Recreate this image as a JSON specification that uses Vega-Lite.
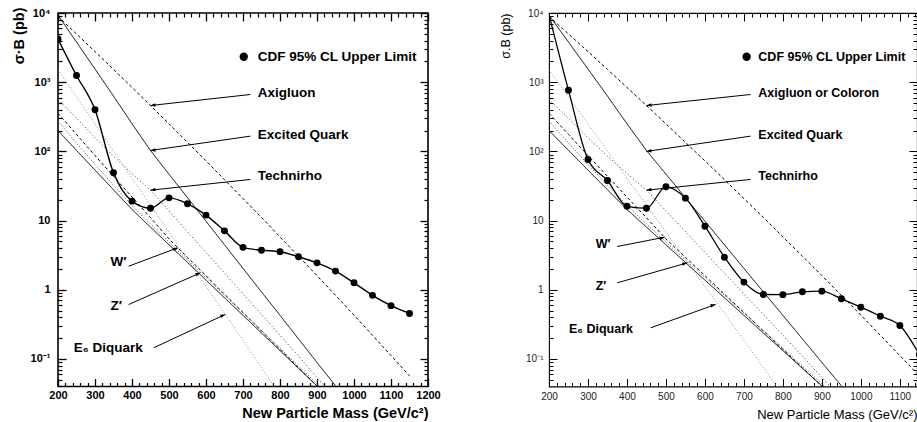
{
  "$schema": "https://vega.github.io/schema/vega-lite/v6.json",
  "padding": {"left": 10, "top": 0, "right": 0, "bottom": 0},
  "spacing": 56,
  "config": {
    "view": {"stroke": "black", "strokeWidth": 1.3},
    "axis": {"labelColor": "black", "titleColor": "black", "grid": false, "domain": false}
  },
  "datasets": {
    "theory": [
      {"model": "Axigluon", "mass": 200, "xs": 8900}, {"model": "Axigluon", "mass": 250, "xs": 4980}, {"model": "Axigluon", "mass": 300, "xs": 2770}, {"model": "Axigluon", "mass": 350, "xs": 1530}, {"model": "Axigluon", "mass": 400, "xs": 840}, {"model": "Axigluon", "mass": 450, "xs": 460}, {"model": "Axigluon", "mass": 500, "xs": 250}, {"model": "Axigluon", "mass": 550, "xs": 135}, {"model": "Axigluon", "mass": 600, "xs": 73}, {"model": "Axigluon", "mass": 650, "xs": 39}, {"model": "Axigluon", "mass": 700, "xs": 20.8}, {"model": "Axigluon", "mass": 750, "xs": 11.1}, {"model": "Axigluon", "mass": 800, "xs": 5.8}, {"model": "Axigluon", "mass": 850, "xs": 3.06}, {"model": "Axigluon", "mass": 900, "xs": 1.6}, {"model": "Axigluon", "mass": 950, "xs": 0.83}, {"model": "Axigluon", "mass": 1000, "xs": 0.43}, {"model": "Axigluon", "mass": 1050, "xs": 0.22}, {"model": "Axigluon", "mass": 1100, "xs": 0.112}, {"model": "Axigluon", "mass": 1150, "xs": 0.057},
      {"model": "Excited Quark", "mass": 200, "xs": 9300}, {"model": "Excited Quark", "mass": 250, "xs": 3800}, {"model": "Excited Quark", "mass": 300, "xs": 1550}, {"model": "Excited Quark", "mass": 350, "xs": 630}, {"model": "Excited Quark", "mass": 400, "xs": 251}, {"model": "Excited Quark", "mass": 450, "xs": 103}, {"model": "Excited Quark", "mass": 500, "xs": 46.8}, {"model": "Excited Quark", "mass": 550, "xs": 21.4}, {"model": "Excited Quark", "mass": 600, "xs": 9.8}, {"model": "Excited Quark", "mass": 650, "xs": 4.47}, {"model": "Excited Quark", "mass": 700, "xs": 2.04}, {"model": "Excited Quark", "mass": 750, "xs": 0.93}, {"model": "Excited Quark", "mass": 800, "xs": 0.427}, {"model": "Excited Quark", "mass": 850, "xs": 0.195}, {"model": "Excited Quark", "mass": 900, "xs": 0.089}, {"model": "Excited Quark", "mass": 950, "xs": 0.041}, {"model": "Excited Quark", "mass": 1000, "xs": 0.0186},
      {"model": "Technirho", "mass": 200, "xs": 562}, {"model": "Technirho", "mass": 250, "xs": 302}, {"model": "Technirho", "mass": 300, "xs": 158}, {"model": "Technirho", "mass": 350, "xs": 85}, {"model": "Technirho", "mass": 400, "xs": 47.9}, {"model": "Technirho", "mass": 450, "xs": 27.5}, {"model": "Technirho", "mass": 500, "xs": 13.8}, {"model": "Technirho", "mass": 550, "xs": 6.9}, {"model": "Technirho", "mass": 600, "xs": 3.47}, {"model": "Technirho", "mass": 650, "xs": 1.74}, {"model": "Technirho", "mass": 700, "xs": 0.87}, {"model": "Technirho", "mass": 750, "xs": 0.44}, {"model": "Technirho", "mass": 800, "xs": 0.22}, {"model": "Technirho", "mass": 850, "xs": 0.11}, {"model": "Technirho", "mass": 900, "xs": 0.054}, {"model": "Technirho", "mass": 950, "xs": 0.027},
      {"model": "E6 Diquark", "mass": 200, "xs": 1510}, {"model": "E6 Diquark", "mass": 250, "xs": 614}, {"model": "E6 Diquark", "mass": 300, "xs": 250}, {"model": "E6 Diquark", "mass": 350, "xs": 101}, {"model": "E6 Diquark", "mass": 400, "xs": 41}, {"model": "E6 Diquark", "mass": 450, "xs": 16.7}, {"model": "E6 Diquark", "mass": 500, "xs": 6.8}, {"model": "E6 Diquark", "mass": 550, "xs": 2.76}, {"model": "E6 Diquark", "mass": 600, "xs": 1.12}, {"model": "E6 Diquark", "mass": 650, "xs": 0.46}, {"model": "E6 Diquark", "mass": 700, "xs": 0.186}, {"model": "E6 Diquark", "mass": 750, "xs": 0.075}, {"model": "E6 Diquark", "mass": 800, "xs": 0.03},
      {"model": "W′", "mass": 200, "xs": 355}, {"model": "W′", "mass": 250, "xs": 176}, {"model": "W′", "mass": 300, "xs": 87}, {"model": "W′", "mass": 350, "xs": 43.6}, {"model": "W′", "mass": 400, "xs": 21.9}, {"model": "W′", "mass": 450, "xs": 11}, {"model": "W′", "mass": 500, "xs": 5.43}, {"model": "W′", "mass": 550, "xs": 2.94}, {"model": "W′", "mass": 600, "xs": 1.6}, {"model": "W′", "mass": 650, "xs": 0.865}, {"model": "W′", "mass": 700, "xs": 0.469}, {"model": "W′", "mass": 750, "xs": 0.254}, {"model": "W′", "mass": 800, "xs": 0.138}, {"model": "W′", "mass": 850, "xs": 0.0746}, {"model": "W′", "mass": 900, "xs": 0.0405}, {"model": "W′", "mass": 950, "xs": 0.022},
      {"model": "W′ (alt)", "mass": 200, "xs": 275}, {"model": "W′ (alt)", "mass": 250, "xs": 132}, {"model": "W′ (alt)", "mass": 300, "xs": 64.6}, {"model": "W′ (alt)", "mass": 350, "xs": 32.4}, {"model": "W′ (alt)", "mass": 400, "xs": 16.6}, {"model": "W′ (alt)", "mass": 450, "xs": 8.9}, {"model": "W′ (alt)", "mass": 500, "xs": 4.9}, {"model": "W′ (alt)", "mass": 550, "xs": 2.69}, {"model": "W′ (alt)", "mass": 600, "xs": 1.5}, {"model": "W′ (alt)", "mass": 650, "xs": 0.83}, {"model": "W′ (alt)", "mass": 700, "xs": 0.462}, {"model": "W′ (alt)", "mass": 750, "xs": 0.257}, {"model": "W′ (alt)", "mass": 800, "xs": 0.143}, {"model": "W′ (alt)", "mass": 850, "xs": 0.0794}, {"model": "W′ (alt)", "mass": 900, "xs": 0.0437}, {"model": "W′ (alt)", "mass": 950, "xs": 0.0243},
      {"model": "Z′", "mass": 200, "xs": 200}, {"model": "Z′", "mass": 250, "xs": 103.5}, {"model": "Z′", "mass": 300, "xs": 53.7}, {"model": "Z′", "mass": 350, "xs": 27.9}, {"model": "Z′", "mass": 400, "xs": 14.5}, {"model": "Z′", "mass": 450, "xs": 8.04}, {"model": "Z′", "mass": 500, "xs": 4.47}, {"model": "Z′", "mass": 550, "xs": 2.48}, {"model": "Z′", "mass": 600, "xs": 1.38}, {"model": "Z′", "mass": 650, "xs": 0.767}, {"model": "Z′", "mass": 700, "xs": 0.427}, {"model": "Z′", "mass": 750, "xs": 0.237}, {"model": "Z′", "mass": 800, "xs": 0.132}, {"model": "Z′", "mass": 850, "xs": 0.0733}, {"model": "Z′", "mass": 900, "xs": 0.0407}, {"model": "Z′", "mass": 950, "xs": 0.0226}
    ],
    "cdf1": [
      {"mass": 200, "xs": 4200, "marker": true}, {"mass": 250, "xs": 1250, "marker": true}, {"mass": 300, "xs": 400, "marker": true}, {"mass": 350, "xs": 49, "marker": true}, {"mass": 400, "xs": 19.1, "marker": true}, {"mass": 450, "xs": 15.1, "marker": true}, {"mass": 500, "xs": 21.3, "marker": true}, {"mass": 550, "xs": 17.5, "marker": true}, {"mass": 600, "xs": 12, "marker": true}, {"mass": 650, "xs": 7.1, "marker": true}, {"mass": 700, "xs": 4.1, "marker": true}, {"mass": 750, "xs": 3.73, "marker": true}, {"mass": 800, "xs": 3.55, "marker": true}, {"mass": 850, "xs": 3.0, "marker": true}, {"mass": 900, "xs": 2.45, "marker": true}, {"mass": 950, "xs": 1.86, "marker": true}, {"mass": 1000, "xs": 1.26, "marker": true}, {"mass": 1050, "xs": 0.83, "marker": true}, {"mass": 1100, "xs": 0.59, "marker": true}, {"mass": 1150, "xs": 0.455, "marker": true}
    ],
    "cdf2": [
      {"mass": 200, "xs": 9500, "marker": false}, {"mass": 250, "xs": 766, "marker": true}, {"mass": 300, "xs": 76.4, "marker": true}, {"mass": 350, "xs": 38, "marker": true}, {"mass": 400, "xs": 16.1, "marker": true}, {"mass": 450, "xs": 15.1, "marker": true}, {"mass": 500, "xs": 30.8, "marker": true}, {"mass": 550, "xs": 21.1, "marker": true}, {"mass": 600, "xs": 8.3, "marker": true}, {"mass": 650, "xs": 2.96, "marker": true}, {"mass": 700, "xs": 1.29, "marker": true}, {"mass": 750, "xs": 0.855, "marker": true}, {"mass": 800, "xs": 0.85, "marker": true}, {"mass": 850, "xs": 0.935, "marker": true}, {"mass": 900, "xs": 0.955, "marker": true}, {"mass": 950, "xs": 0.74, "marker": true}, {"mass": 1000, "xs": 0.56, "marker": true}, {"mass": 1050, "xs": 0.415, "marker": true}, {"mass": 1100, "xs": 0.305, "marker": true}, {"mass": 1150, "xs": 0.116, "marker": true}
    ],
    "arrows1": [
      {"label": "Axigluon", "x1": 720, "y1": 664, "x2": 450, "y2": 460},
      {"label": "Excited Quark", "x1": 720, "y1": 166, "x2": 450, "y2": 103},
      {"label": "Technirho", "x1": 720, "y1": 39.3, "x2": 450, "y2": 27.5},
      {"label": "W′", "x1": 391, "y1": 2.19, "x2": 524, "y2": 4.05},
      {"label": "Z′", "x1": 391, "y1": 0.612, "x2": 585, "y2": 1.76},
      {"label": "E₆ Diquark", "x1": 458.6, "y1": 0.145, "x2": 652, "y2": 0.44}
    ],
    "arrows2": [
      {"label": "Axigluon or Coloron", "x1": 717, "y1": 664, "x2": 450, "y2": 460},
      {"label": "Excited Quark", "x1": 717, "y1": 166, "x2": 450, "y2": 100},
      {"label": "Technirho", "x1": 717, "y1": 39.3, "x2": 450, "y2": 27.5},
      {"label": "W′", "x1": 375, "y1": 4.22, "x2": 496.7, "y2": 5.75},
      {"label": "Z′", "x1": 375, "y1": 1.26, "x2": 554.8, "y2": 2.45},
      {"label": "E₆ Diquark", "x1": 460.8, "y1": 0.282, "x2": 627.4, "y2": 0.614}
    ],
    "notes1": [
      {"label": "Axigluon", "x": 740, "y": 703},
      {"label": "Excited Quark", "x": 740, "y": 175},
      {"label": "Technirho", "x": 740, "y": 43.8},
      {"label": "W′", "x": 342, "y": 2.48},
      {"label": "Z′", "x": 342, "y": 0.58},
      {"label": "E₆ Diquark", "x": 242.4, "y": 0.145}
    ],
    "notes2": [
      {"label": "Axigluon or Coloron", "x": 737, "y": 703},
      {"label": "Excited Quark", "x": 737, "y": 175},
      {"label": "Technirho", "x": 737, "y": 43.8},
      {"label": "W′", "x": 319.7, "y": 4.52},
      {"label": "Z′", "x": 319.7, "y": 1.13},
      {"label": "E₆ Diquark", "x": 251.3, "y": 0.267}
    ],
    "legend1": [{"label": "CDF 95% CL Upper Limit", "mx": 702, "tx": 740, "y": 2330}],
    "legend2": [{"label": "CDF 95% CL Upper Limit", "mx": 707, "tx": 737, "y": 2330}]
  },
  "hconcat": [
    {
      "width": 370,
      "height": 373.5,
      "view": {"stroke": "black", "strokeWidth": 1.6},
      "resolve": {"axis": {"x": "independent", "y": "independent"}},
      "layer": [
        {
          "data": {"name": "theory"},
          "mark": {"type": "line", "clip": true, "strokeWidth": 1},
          "encoding": {
            "x": {"field": "mass", "type": "quantitative", "scale": {"domain": [200, 1200], "nice": false, "zero": false},
              "axis": {"orient": "bottom", "values": [200, 300, 400, 500, 600, 700, 800, 900, 1000, 1100, 1200], "format": "d", "ticks": true, "tickSize": 8, "offset": -8, "tickColor": "black", "tickWidth": 1.3, "labelFont": "Liberation Sans", "labelFontWeight": "bold", "labelFontSize": 11, "labelPadding": 3, "labelFlush": false, "title": "New Particle Mass (GeV/c²)", "titleFont": "Liberation Sans", "titleFontWeight": "bold", "titleFontSize": 14.5, "titleAnchor": "end", "titlePadding": 6}},
            "y": {"field": "xs", "type": "quantitative", "scale": {"type": "log", "domain": [0.04, 10000], "nice": false},
              "axis": {"orient": "left", "values": [0.1, 1, 10, 100, 1000, 10000], "ticks": true, "tickSize": 8, "offset": -8, "tickColor": "black", "tickWidth": 1.3, "labelExpr": "datum.value == 10000 ? '10⁴' : datum.value == 1000 ? '10³' : datum.value == 100 ? '10²' : datum.value == 10 ? '10' : datum.value == 1 ? '1' : '10⁻¹'", "labelFont": "Liberation Sans", "labelFontWeight": "bold", "labelFontSize": 11, "labelPadding": 8, "labelFlush": false, "title": "σ·B (pb)", "titleFont": "Liberation Sans", "titleFontWeight": "bold", "titleFontSize": 14.5, "titleAnchor": "end", "titleY": -6, "titlePadding": 4}},
            "color": {"field": "model", "type": "nominal", "legend": null, "scale": {"domain": ["Axigluon", "Excited Quark", "Technirho", "E6 Diquark", "W′", "W′ (alt)", "Z′"], "range": ["black", "black", "#333333", "#8a8a8a", "black", "#444444", "black"]}},
            "strokeDash": {"field": "model", "type": "nominal", "legend": null, "scale": {"domain": ["Axigluon", "Excited Quark", "Technirho", "E6 Diquark", "W′", "W′ (alt)", "Z′"], "range": [[3, 2.5], [1, 0], [1, 2.5], [1, 2], [3, 2.5], [1, 2], [1, 0]]}}
          }
        },
        {
          "data": {"name": "cdf1"},
          "mark": {"type": "line", "interpolate": "monotone", "color": "black", "strokeWidth": 1.4, "clip": true},
          "encoding": {
            "x": {"field": "mass", "type": "quantitative", "axis": {"orient": "top", "values": [200, 300, 400, 500, 600, 700, 800, 900, 1000, 1100, 1200], "labels": true, "labelExpr": "''", "ticks": true, "tickSize": 8, "offset": -8, "tickColor": "black", "tickWidth": 1.3, "title": null}},
            "y": {"field": "xs", "type": "quantitative", "axis": {"orient": "right", "values": [0.1, 1, 10, 100, 1000, 10000], "labels": true, "labelExpr": "''", "ticks": true, "tickSize": 8, "offset": -8, "tickColor": "black", "tickWidth": 1.3, "title": null}}
          }
        },
        {
          "data": {"name": "cdf1"},
          "transform": [{"filter": "datum.marker"}],
          "mark": {"type": "point", "filled": true, "color": "black", "opacity": 1, "size": 48, "clip": true},
          "encoding": {
            "x": {"field": "mass", "type": "quantitative", "axis": {"orient": "bottom", "values": [220, 240, 260, 280, 320, 340, 360, 380, 420, 440, 460, 480, 520, 540, 560, 580, 620, 640, 660, 680, 720, 740, 760, 780, 820, 840, 860, 880, 920, 940, 960, 980, 1020, 1040, 1060, 1080, 1120, 1140, 1160, 1180], "labels": true, "labelExpr": "''", "ticks": true, "tickSize": 4, "offset": -4, "tickColor": "black", "tickWidth": 1.2, "title": null}},
            "y": {"field": "xs", "type": "quantitative", "axis": {"orient": "left", "values": [0.05, 0.06, 0.07, 0.08, 0.09, 0.2, 0.3, 0.4, 0.5, 0.6, 0.7, 0.8, 0.9, 2, 3, 4, 5, 6, 7, 8, 9, 20, 30, 40, 50, 60, 70, 80, 90, 200, 300, 400, 500, 600, 700, 800, 900, 2000, 3000, 4000, 5000, 6000, 7000, 8000, 9000], "labels": true, "labelExpr": "''", "ticks": true, "tickSize": 4, "offset": -4, "tickColor": "black", "tickWidth": 1.2, "title": null}}
          }
        },
        {
          "data": {"name": "arrows1"},
          "mark": {"type": "rule", "color": "black", "strokeWidth": 1},
          "encoding": {
            "x": {"field": "x1", "type": "quantitative", "axis": {"orient": "top", "values": [220, 240, 260, 280, 320, 340, 360, 380, 420, 440, 460, 480, 520, 540, 560, 580, 620, 640, 660, 680, 720, 740, 760, 780, 820, 840, 860, 880, 920, 940, 960, 980, 1020, 1040, 1060, 1080, 1120, 1140, 1160, 1180], "labels": true, "labelExpr": "''", "ticks": true, "tickSize": 4, "offset": -4, "tickColor": "black", "tickWidth": 1.2, "title": null}},
            "y": {"field": "y1", "type": "quantitative", "axis": {"orient": "right", "values": [0.05, 0.06, 0.07, 0.08, 0.09, 0.2, 0.3, 0.4, 0.5, 0.6, 0.7, 0.8, 0.9, 2, 3, 4, 5, 6, 7, 8, 9, 20, 30, 40, 50, 60, 70, 80, 90, 200, 300, 400, 500, 600, 700, 800, 900, 2000, 3000, 4000, 5000, 6000, 7000, 8000, 9000], "labels": true, "labelExpr": "''", "ticks": true, "tickSize": 4, "offset": -4, "tickColor": "black", "tickWidth": 1.2, "title": null}},
            "x2": {"field": "x2"},
            "y2": {"field": "y2"}
          }
        },
        {
          "data": {"name": "arrows1"},
          "transform": [{"filter": {"field": "label", "oneOf": ["Axigluon", "Excited Quark", "Technirho"]}}],
          "mark": {"type": "point", "shape": "M2,-0.7L0,0L2,0.7Z", "filled": true, "color": "black", "opacity": 1, "size": 25, "angle": -7},
          "encoding": {
            "x": {"field": "x2", "type": "quantitative", "axis": null},
            "y": {"field": "y2", "type": "quantitative", "axis": null}
          }
        },
        {
          "data": {"name": "arrows1"},
          "transform": [{"filter": {"field": "label", "oneOf": ["W′", "Z′", "E₆ Diquark"]}}],
          "mark": {"type": "point", "shape": "M-2,-0.7L0,0L-2,0.7Z", "filled": true, "color": "black", "opacity": 1, "size": 25, "angle": -23},
          "encoding": {
            "x": {"field": "x2", "type": "quantitative", "axis": null},
            "y": {"field": "y2", "type": "quantitative", "axis": null}
          }
        },
        {
          "data": {"name": "notes1"},
          "mark": {"type": "text", "align": "left", "baseline": "middle", "font": "Liberation Sans", "fontWeight": "bold", "fontSize": 13.5, "color": "black"},
          "encoding": {
            "x": {"field": "x", "type": "quantitative", "axis": null},
            "y": {"field": "y", "type": "quantitative", "axis": null},
            "text": {"field": "label"}
          }
        },
        {
          "data": {"name": "legend1"},
          "mark": {"type": "point", "filled": true, "color": "black", "opacity": 1, "size": 70},
          "encoding": {
            "x": {"field": "mx", "type": "quantitative", "axis": null},
            "y": {"field": "y", "type": "quantitative", "axis": null}
          }
        },
        {
          "data": {"name": "legend1"},
          "mark": {"type": "text", "align": "left", "baseline": "middle", "font": "Liberation Sans", "fontWeight": "bold", "fontSize": 13.5, "color": "black"},
          "encoding": {
            "x": {"field": "tx", "type": "quantitative", "axis": null},
            "y": {"field": "y", "type": "quantitative", "axis": null},
            "text": {"field": "label"}
          }
        }
      ]
    },
    {
      "width": 368,
      "height": 373.5,
      "view": {"stroke": "black", "strokeWidth": 1.1},
      "resolve": {"axis": {"x": "independent", "y": "independent"}},
      "layer": [
        {
          "data": {"name": "theory"},
          "mark": {"type": "line", "clip": true, "strokeWidth": 1},
          "encoding": {
            "x": {"field": "mass", "type": "quantitative", "scale": {"domain": [200, 1144], "nice": false, "zero": false},
              "axis": {"orient": "bottom", "values": [200, 300, 400, 500, 600, 700, 800, 900, 1000, 1100], "format": "d", "ticks": true, "tickSize": 8, "offset": -8, "tickColor": "black", "tickWidth": 1, "labelFont": "Liberation Sans", "labelFontSize": 10, "labelColor": "#222222", "labelPadding": 5, "labelFlush": false, "title": "New Particle Mass (GeV/c²)", "titleFont": "Liberation Sans", "titleFontWeight": "normal", "titleFontSize": 13, "titleAnchor": "end", "titlePadding": 7}},
            "y": {"field": "xs", "type": "quantitative", "scale": {"type": "log", "domain": [0.04, 10000], "nice": false},
              "axis": {"orient": "left", "values": [0.1, 1, 10, 100, 1000, 10000], "ticks": true, "tickSize": 8, "offset": -8, "tickColor": "black", "tickWidth": 1, "labelExpr": "datum.value == 10000 ? '10⁴' : datum.value == 1000 ? '10³' : datum.value == 100 ? '10²' : datum.value == 10 ? '10' : datum.value == 1 ? '1' : '10⁻¹'", "labelFont": "Liberation Sans", "labelFontSize": 10, "labelColor": "#222222", "labelPadding": 6, "labelFlush": false, "title": "σ.B (pb)", "titleFont": "Liberation Sans", "titleFontWeight": "normal", "titleFontSize": 12.5, "titleAnchor": "end", "titlePadding": 13}},
            "color": {"field": "model", "type": "nominal", "legend": null, "scale": {"domain": ["Axigluon", "Excited Quark", "Technirho", "E6 Diquark", "W′", "W′ (alt)", "Z′"], "range": ["black", "black", "#333333", "#8a8a8a", "black", "#444444", "black"]}},
            "strokeDash": {"field": "model", "type": "nominal", "legend": null, "scale": {"domain": ["Axigluon", "Excited Quark", "Technirho", "E6 Diquark", "W′", "W′ (alt)", "Z′"], "range": [[3, 2.5], [1, 0], [1, 2.5], [1, 2], [3, 2.5], [1, 2], [1, 0]]}}
          }
        },
        {
          "data": {"name": "cdf2"},
          "mark": {"type": "line", "interpolate": "monotone", "color": "black", "strokeWidth": 1.3, "clip": true},
          "encoding": {
            "x": {"field": "mass", "type": "quantitative", "axis": {"orient": "top", "values": [200, 300, 400, 500, 600, 700, 800, 900, 1000, 1100], "labels": true, "labelExpr": "''", "ticks": true, "tickSize": 8, "offset": -8, "tickColor": "black", "tickWidth": 1, "title": null}},
            "y": {"field": "xs", "type": "quantitative", "axis": {"orient": "right", "values": [0.1, 1, 10, 100, 1000, 10000], "labels": true, "labelExpr": "''", "ticks": true, "tickSize": 8, "offset": -8, "tickColor": "black", "tickWidth": 1, "title": null}}
          }
        },
        {
          "data": {"name": "cdf2"},
          "transform": [{"filter": "datum.marker"}],
          "mark": {"type": "point", "filled": true, "color": "black", "opacity": 1, "size": 48, "clip": true},
          "encoding": {
            "x": {"field": "mass", "type": "quantitative", "axis": {"orient": "bottom", "values": [220, 240, 260, 280, 320, 340, 360, 380, 420, 440, 460, 480, 520, 540, 560, 580, 620, 640, 660, 680, 720, 740, 760, 780, 820, 840, 860, 880, 920, 940, 960, 980, 1020, 1040, 1060, 1080, 1120, 1140], "labels": true, "labelExpr": "''", "ticks": true, "tickSize": 4, "offset": -4, "tickColor": "black", "tickWidth": 1, "title": null}},
            "y": {"field": "xs", "type": "quantitative", "axis": {"orient": "left", "values": [0.05, 0.06, 0.07, 0.08, 0.09, 0.2, 0.3, 0.4, 0.5, 0.6, 0.7, 0.8, 0.9, 2, 3, 4, 5, 6, 7, 8, 9, 20, 30, 40, 50, 60, 70, 80, 90, 200, 300, 400, 500, 600, 700, 800, 900, 2000, 3000, 4000, 5000, 6000, 7000, 8000, 9000], "labels": true, "labelExpr": "''", "ticks": true, "tickSize": 4, "offset": -4, "tickColor": "black", "tickWidth": 1, "title": null}}
          }
        },
        {
          "data": {"name": "arrows2"},
          "mark": {"type": "rule", "color": "black", "strokeWidth": 1},
          "encoding": {
            "x": {"field": "x1", "type": "quantitative", "axis": {"orient": "top", "values": [220, 240, 260, 280, 320, 340, 360, 380, 420, 440, 460, 480, 520, 540, 560, 580, 620, 640, 660, 680, 720, 740, 760, 780, 820, 840, 860, 880, 920, 940, 960, 980, 1020, 1040, 1060, 1080, 1120, 1140], "labels": true, "labelExpr": "''", "ticks": true, "tickSize": 4, "offset": -4, "tickColor": "black", "tickWidth": 1, "title": null}},
            "y": {"field": "y1", "type": "quantitative", "axis": {"orient": "right", "values": [0.05, 0.06, 0.07, 0.08, 0.09, 0.2, 0.3, 0.4, 0.5, 0.6, 0.7, 0.8, 0.9, 2, 3, 4, 5, 6, 7, 8, 9, 20, 30, 40, 50, 60, 70, 80, 90, 200, 300, 400, 500, 600, 700, 800, 900, 2000, 3000, 4000, 5000, 6000, 7000, 8000, 9000], "labels": true, "labelExpr": "''", "ticks": true, "tickSize": 4, "offset": -4, "tickColor": "black", "tickWidth": 1, "title": null}},
            "x2": {"field": "x2"},
            "y2": {"field": "y2"}
          }
        },
        {
          "data": {"name": "arrows2"},
          "transform": [{"filter": {"field": "label", "oneOf": ["Axigluon or Coloron", "Excited Quark", "Technirho"]}}],
          "mark": {"type": "point", "shape": "M2,-0.7L0,0L2,0.7Z", "filled": true, "color": "black", "opacity": 1, "size": 25, "angle": -7},
          "encoding": {
            "x": {"field": "x2", "type": "quantitative", "axis": null},
            "y": {"field": "y2", "type": "quantitative", "axis": null}
          }
        },
        {
          "data": {"name": "arrows2"},
          "transform": [{"filter": {"field": "label", "oneOf": ["W′", "Z′", "E₆ Diquark"]}}],
          "mark": {"type": "point", "shape": "M-2,-0.7L0,0L-2,0.7Z", "filled": true, "color": "black", "opacity": 1, "size": 25, "angle": -15},
          "encoding": {
            "x": {"field": "x2", "type": "quantitative", "axis": null},
            "y": {"field": "y2", "type": "quantitative", "axis": null}
          }
        },
        {
          "data": {"name": "notes2"},
          "mark": {"type": "text", "align": "left", "baseline": "middle", "font": "Liberation Sans", "fontWeight": "bold", "fontSize": 12.5, "color": "black"},
          "encoding": {
            "x": {"field": "x", "type": "quantitative", "axis": null},
            "y": {"field": "y", "type": "quantitative", "axis": null},
            "text": {"field": "label"}
          }
        },
        {
          "data": {"name": "legend2"},
          "mark": {"type": "point", "filled": true, "color": "black", "opacity": 1, "size": 70},
          "encoding": {
            "x": {"field": "mx", "type": "quantitative", "axis": null},
            "y": {"field": "y", "type": "quantitative", "axis": null}
          }
        },
        {
          "data": {"name": "legend2"},
          "mark": {"type": "text", "align": "left", "baseline": "middle", "font": "Liberation Sans", "fontWeight": "bold", "fontSize": 12.5, "color": "black"},
          "encoding": {
            "x": {"field": "tx", "type": "quantitative", "axis": null},
            "y": {"field": "y", "type": "quantitative", "axis": null},
            "text": {"field": "label"}
          }
        }
      ]
    }
  ]
}
